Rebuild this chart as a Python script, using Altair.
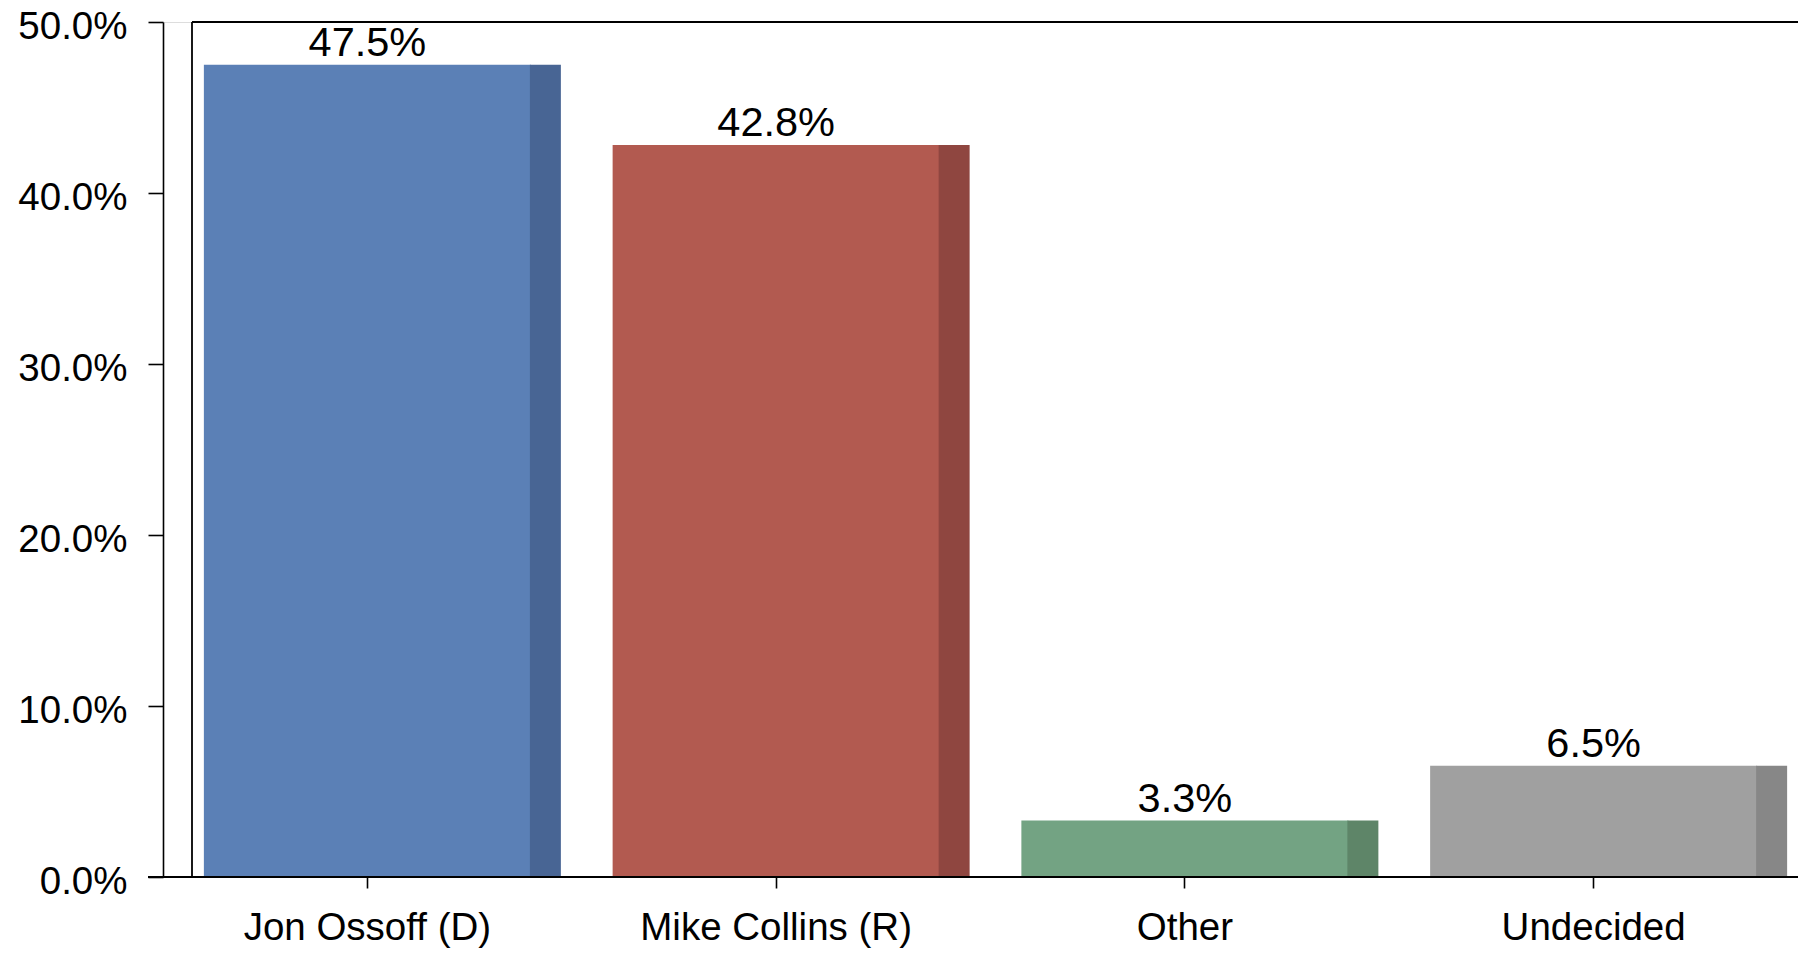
import altair as alt
import pandas as pd

candidates = ["Jon Ossoff (D)", "Mike Collins (R)", "Other", "Undecided"]
shares = [47.5, 42.8, 3.3, 6.5]
main_colors = ["#5b80b6", "#b25a50", "#73a383", "#a0a0a0"]
side_colors = ["#486594", "#8f4640", "#5e8568", "#878787"]
y_ticks = [0, 10, 20, 30, 40, 50]

df = pd.DataFrame({
    "cand": candidates,
    "share": shares,
    "label": [f"{v:.1f}%" for v in shares],
})

W, H = 1635, 855
FONT = "Liberation Sans"

x_enc = alt.X(
    "cand:N", sort=None,
    scale=alt.Scale(paddingInner=0.2, paddingOuter=0.1),
    axis=alt.Axis(title=None, labelAngle=0, labelFontSize=38.5, labelFont=FONT,
                  labelColor="#000", tickSize=11, tickColor="#000", tickWidth=1.6,
                  domain=False, labelPadding=21.5, labelLimit=0),
)
y_enc = alt.Y(
    "share:Q",
    scale=alt.Scale(domain=[0, 50], nice=False),
    axis=alt.Axis(title=None, values=y_ticks, grid=False,
                  labelExpr="format(datum.value, '.1f') + '%'",
                  labelFontSize=38.5, labelFont=FONT, labelColor="#000",
                  tickSize=15, tickColor="#000", tickWidth=1.6,
                  domainColor="#000", domainWidth=1.6, labelPadding=21,
                  labelOffset=4, labelLimit=0),
)

color_main = alt.Color("cand:N", sort=None, legend=None,
                       scale=alt.Scale(domain=candidates, range=main_colors))
color_side = alt.Color("cand:N", sort=None, legend=None,
                       scale=alt.Scale(domain=candidates, range=side_colors))

base = alt.Chart(df)

main = base.mark_bar().encode(x=x_enc, y=y_enc, color=color_main)
side = base.mark_bar(width=31, xOffset=178).encode(
    x=alt.X("cand:N", sort=None), y="share:Q", color=color_side)
text = base.mark_text(dy=-9, baseline="alphabetic", fontSize=41.5, font=FONT,
                      color="#000").encode(
    x=alt.X("cand:N", sort=None), y="share:Q", text="label:N")

one = alt.Data(values=[{"k": 1}])
frame_left = alt.Chart(one).mark_rule(color="#000", strokeWidth=1.8).encode(
    x=alt.value(29), y=alt.value(0), y2=alt.value(H))
frame_top = alt.Chart(one).mark_rule(color="#000", strokeWidth=1.8).encode(
    x=alt.value(29), x2=alt.value(W), y=alt.value(0))
x_line = alt.Chart(one).mark_rule(color="#000", strokeWidth=1.8).encode(
    x=alt.value(-15), x2=alt.value(W), y=alt.value(H))

chart = alt.layer(main, side, text, frame_left, frame_top, x_line).resolve_scale(
    color="independent"
).properties(
    width=W, height=H,
    autosize=alt.AutoSizeParams(type="none"),
    padding={"left": 155, "top": 14, "right": 0, "bottom": 72},
).configure_view(strokeWidth=0).configure(background="white")

chart.save("out.html", embed_options={"renderer": "svg", "actions": False})
